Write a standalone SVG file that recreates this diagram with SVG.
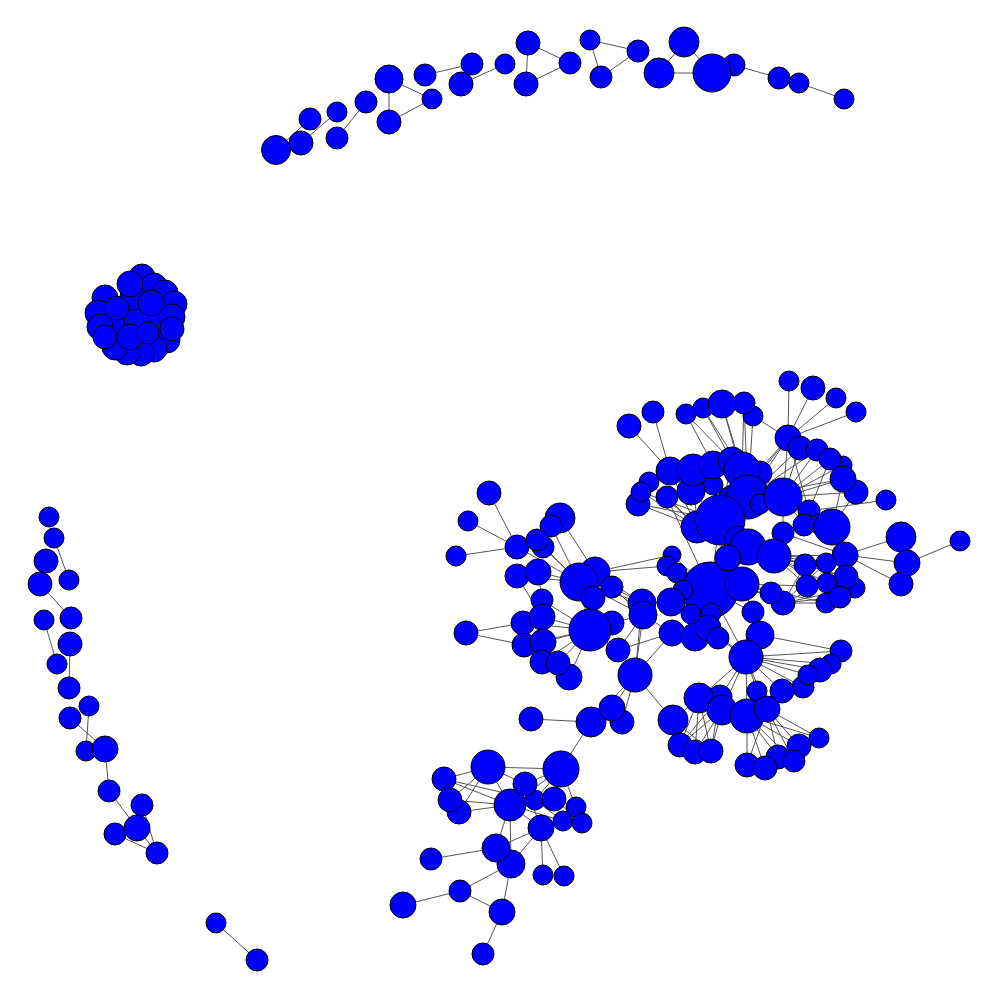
<svg xmlns="http://www.w3.org/2000/svg" width="1000" height="1000" viewBox="0 0 1000 1000">
<style>
circle{fill:#0000ff;stroke:#000;stroke-width:1}
#edges line{stroke:#555;stroke-width:1}
</style>
<rect width="1000" height="1000" fill="#fff"/>
<g id="edges">
<line x1="276" y1="150" x2="310" y2="119"/><line x1="301" y1="143" x2="337" y2="112"/><line x1="337" y1="138" x2="366" y2="102"/><line x1="389" y1="79" x2="389" y2="122"/><line x1="389" y1="79" x2="432" y2="99"/><line x1="389" y1="122" x2="432" y2="99"/><line x1="425" y1="75" x2="472" y2="64"/><line x1="461" y1="84" x2="505" y2="64"/><line x1="528" y1="43" x2="526" y2="84"/><line x1="528" y1="43" x2="570" y2="63"/><line x1="526" y1="84" x2="570" y2="63"/><line x1="590" y1="40" x2="638" y2="51"/><line x1="590" y1="40" x2="601" y2="77"/><line x1="601" y1="77" x2="638" y2="51"/><line x1="684" y1="42" x2="659" y2="73"/><line x1="684" y1="42" x2="712" y2="73"/><line x1="659" y1="73" x2="712" y2="73"/><line x1="734" y1="65" x2="779" y2="78"/><line x1="799" y1="83" x2="844" y2="99"/>
<line x1="54" y1="538" x2="69" y2="580"/><line x1="40" y1="584" x2="71" y2="618"/><line x1="44" y1="620" x2="57" y2="664"/><line x1="70" y1="644" x2="69" y2="688"/><line x1="89" y1="706" x2="86" y2="751"/><line x1="70" y1="718" x2="105" y2="749"/><line x1="105" y1="749" x2="109" y2="791"/><line x1="109" y1="791" x2="137" y2="828"/><line x1="137" y1="828" x2="157" y2="853"/><line x1="115" y1="834" x2="157" y2="853"/><line x1="142" y1="805" x2="157" y2="853"/><line x1="216" y1="923" x2="257" y2="960"/>
<line x1="488" y1="767" x2="561" y2="769"/><line x1="488" y1="767" x2="444" y2="779"/><line x1="488" y1="767" x2="450" y2="800"/><line x1="488" y1="767" x2="459" y2="812"/><line x1="488" y1="767" x2="510" y2="805"/><line x1="488" y1="767" x2="525" y2="784"/><line x1="444" y1="779" x2="510" y2="805"/><line x1="444" y1="779" x2="535" y2="800"/><line x1="450" y1="800" x2="510" y2="805"/><line x1="459" y1="812" x2="510" y2="805"/><line x1="561" y1="769" x2="525" y2="784"/><line x1="561" y1="769" x2="535" y2="800"/><line x1="561" y1="769" x2="554" y2="799"/><line x1="561" y1="769" x2="576" y2="807"/><line x1="561" y1="769" x2="510" y2="805"/><line x1="561" y1="769" x2="591" y2="722"/><line x1="510" y1="805" x2="541" y2="828"/><line x1="510" y1="805" x2="496" y2="848"/><line x1="510" y1="805" x2="511" y2="864"/><line x1="525" y1="784" x2="541" y2="828"/><line x1="535" y1="800" x2="563" y2="821"/><line x1="554" y1="799" x2="582" y2="823"/><line x1="510" y1="805" x2="563" y2="821"/><line x1="541" y1="828" x2="496" y2="848"/><line x1="541" y1="828" x2="511" y2="864"/><line x1="541" y1="828" x2="543" y2="875"/><line x1="541" y1="828" x2="564" y2="876"/><line x1="496" y1="848" x2="431" y2="859"/><line x1="511" y1="864" x2="460" y2="891"/><line x1="511" y1="864" x2="502" y2="912"/><line x1="460" y1="891" x2="403" y2="905"/><line x1="460" y1="891" x2="502" y2="912"/><line x1="502" y1="912" x2="483" y2="954"/>
<line x1="629" y1="426" x2="670" y2="471"/><line x1="653" y1="412" x2="670" y2="471"/><line x1="686" y1="414" x2="732" y2="461"/><line x1="703" y1="408" x2="732" y2="461"/><line x1="703" y1="408" x2="742" y2="470"/><line x1="722" y1="404" x2="742" y2="470"/><line x1="722" y1="404" x2="748" y2="497"/><line x1="744" y1="403" x2="742" y2="470"/><line x1="744" y1="403" x2="748" y2="497"/><line x1="753" y1="416" x2="748" y2="497"/><line x1="753" y1="416" x2="788" y2="438"/><line x1="686" y1="414" x2="713" y2="465"/><line x1="789" y1="381" x2="788" y2="438"/><line x1="813" y1="388" x2="788" y2="438"/><line x1="836" y1="398" x2="788" y2="438"/><line x1="856" y1="412" x2="788" y2="438"/><line x1="788" y1="438" x2="760" y2="473"/><line x1="788" y1="438" x2="748" y2="497"/><line x1="788" y1="438" x2="783" y2="497"/><line x1="788" y1="438" x2="809" y2="511"/><line x1="788" y1="438" x2="733" y2="500"/><line x1="800" y1="448" x2="783" y2="497"/><line x1="817" y1="450" x2="783" y2="497"/><line x1="830" y1="459" x2="783" y2="497"/><line x1="843" y1="465" x2="783" y2="497"/><line x1="843" y1="479" x2="783" y2="497"/><line x1="856" y1="492" x2="783" y2="497"/><line x1="800" y1="448" x2="748" y2="497"/><line x1="817" y1="450" x2="748" y2="497"/><line x1="843" y1="479" x2="748" y2="497"/><line x1="830" y1="459" x2="809" y2="511"/><line x1="886" y1="500" x2="809" y2="511"/><line x1="670" y1="471" x2="697" y2="527"/><line x1="693" y1="470" x2="697" y2="527"/><line x1="713" y1="465" x2="720" y2="520"/><line x1="732" y1="461" x2="720" y2="520"/><line x1="742" y1="470" x2="720" y2="520"/><line x1="760" y1="473" x2="783" y2="497"/><line x1="649" y1="482" x2="697" y2="527"/><line x1="641" y1="492" x2="697" y2="527"/><line x1="638" y1="504" x2="697" y2="527"/><line x1="667" y1="497" x2="697" y2="527"/><line x1="638" y1="504" x2="720" y2="520"/><line x1="641" y1="492" x2="720" y2="520"/><line x1="667" y1="497" x2="710" y2="590"/><line x1="691" y1="491" x2="720" y2="520"/><line x1="713" y1="485" x2="720" y2="520"/><line x1="748" y1="497" x2="783" y2="497"/><line x1="748" y1="497" x2="710" y2="590"/><line x1="733" y1="500" x2="710" y2="590"/><line x1="760" y1="504" x2="783" y2="497"/><line x1="783" y1="497" x2="804" y2="525"/><line x1="783" y1="497" x2="819" y2="524"/><line x1="783" y1="497" x2="832" y2="527"/><line x1="783" y1="497" x2="783" y2="533"/><line x1="832" y1="527" x2="845" y2="555"/><line x1="783" y1="533" x2="845" y2="555"/><line x1="774" y1="556" x2="845" y2="555"/><line x1="832" y1="527" x2="843" y2="479"/><line x1="832" y1="527" x2="856" y2="492"/><line x1="845" y1="555" x2="901" y2="537"/><line x1="845" y1="555" x2="907" y2="563"/><line x1="845" y1="555" x2="901" y2="584"/><line x1="907" y1="563" x2="960" y2="541"/><line x1="774" y1="556" x2="805" y2="565"/><line x1="774" y1="556" x2="826" y2="563"/><line x1="774" y1="556" x2="846" y2="577"/><line x1="774" y1="556" x2="807" y2="586"/><line x1="774" y1="556" x2="827" y2="583"/><line x1="774" y1="556" x2="840" y2="597"/><line x1="783" y1="603" x2="805" y2="565"/><line x1="783" y1="603" x2="826" y2="563"/><line x1="783" y1="603" x2="855" y2="588"/><line x1="783" y1="603" x2="827" y2="583"/><line x1="783" y1="603" x2="840" y2="597"/><line x1="783" y1="603" x2="826" y2="603"/><line x1="742" y1="584" x2="807" y2="586"/><line x1="742" y1="584" x2="826" y2="603"/><line x1="748" y1="547" x2="826" y2="563"/><line x1="748" y1="547" x2="846" y2="577"/><line x1="710" y1="590" x2="720" y2="520"/><line x1="710" y1="590" x2="748" y2="547"/><line x1="710" y1="590" x2="742" y2="584"/><line x1="710" y1="590" x2="728" y2="558"/><line x1="710" y1="590" x2="672" y2="555"/><line x1="710" y1="590" x2="667" y2="566"/><line x1="710" y1="590" x2="677" y2="573"/><line x1="710" y1="590" x2="683" y2="590"/><line x1="710" y1="590" x2="671" y2="602"/><line x1="710" y1="590" x2="691" y2="614"/><line x1="710" y1="590" x2="711" y2="613"/><line x1="710" y1="590" x2="753" y2="612"/><line x1="710" y1="590" x2="771" y2="593"/><line x1="742" y1="584" x2="753" y2="612"/><line x1="742" y1="584" x2="771" y2="593"/><line x1="742" y1="584" x2="783" y2="603"/><line x1="760" y1="635" x2="746" y2="657"/><line x1="746" y1="657" x2="718" y2="638"/><line x1="746" y1="657" x2="708" y2="628"/><line x1="746" y1="657" x2="710" y2="590"/>
<line x1="579" y1="582" x2="642" y2="603"/><line x1="579" y1="582" x2="643" y2="615"/><line x1="595" y1="572" x2="642" y2="603"/><line x1="612" y1="587" x2="642" y2="603"/><line x1="595" y1="572" x2="643" y2="615"/><line x1="612" y1="587" x2="643" y2="615"/><line x1="595" y1="572" x2="672" y2="555"/><line x1="595" y1="572" x2="667" y2="566"/><line x1="612" y1="623" x2="643" y2="615"/><line x1="618" y1="650" x2="643" y2="615"/><line x1="635" y1="675" x2="643" y2="615"/><line x1="635" y1="675" x2="642" y2="603"/><line x1="618" y1="650" x2="672" y2="633"/><line x1="635" y1="675" x2="672" y2="633"/><line x1="643" y1="615" x2="672" y2="633"/><line x1="671" y1="602" x2="642" y2="603"/>
<line x1="760" y1="635" x2="841" y2="651"/><line x1="746" y1="657" x2="841" y2="651"/><line x1="746" y1="657" x2="831" y2="664"/><line x1="746" y1="657" x2="820" y2="670"/><line x1="746" y1="657" x2="808" y2="675"/><line x1="746" y1="657" x2="803" y2="687"/><line x1="746" y1="657" x2="782" y2="691"/><line x1="746" y1="657" x2="757" y2="691"/><line x1="746" y1="657" x2="767" y2="709"/><line x1="746" y1="657" x2="747" y2="716"/><line x1="746" y1="657" x2="722" y2="710"/><line x1="746" y1="657" x2="720" y2="697"/><line x1="746" y1="657" x2="699" y2="698"/><line x1="747" y1="716" x2="747" y2="765"/><line x1="747" y1="716" x2="765" y2="768"/><line x1="747" y1="716" x2="778" y2="757"/><line x1="747" y1="716" x2="799" y2="746"/><line x1="747" y1="716" x2="794" y2="761"/><line x1="747" y1="716" x2="819" y2="738"/><line x1="767" y1="709" x2="747" y2="765"/><line x1="767" y1="709" x2="778" y2="757"/><line x1="767" y1="709" x2="799" y2="746"/><line x1="767" y1="709" x2="794" y2="761"/><line x1="767" y1="709" x2="819" y2="738"/><line x1="722" y1="710" x2="680" y2="745"/><line x1="722" y1="710" x2="695" y2="752"/><line x1="722" y1="710" x2="711" y2="751"/><line x1="720" y1="697" x2="680" y2="745"/><line x1="720" y1="697" x2="711" y2="751"/><line x1="699" y1="698" x2="680" y2="745"/><line x1="699" y1="698" x2="695" y2="752"/><line x1="699" y1="698" x2="711" y2="751"/><line x1="673" y1="720" x2="680" y2="745"/><line x1="673" y1="720" x2="695" y2="752"/><line x1="673" y1="720" x2="711" y2="751"/><line x1="699" y1="698" x2="673" y2="720"/><line x1="635" y1="675" x2="673" y2="720"/>
<line x1="489" y1="493" x2="517" y2="547"/><line x1="468" y1="521" x2="517" y2="547"/><line x1="456" y1="556" x2="517" y2="547"/><line x1="517" y1="547" x2="579" y2="582"/><line x1="537" y1="540" x2="579" y2="582"/><line x1="543" y1="547" x2="579" y2="582"/><line x1="551" y1="526" x2="579" y2="582"/><line x1="560" y1="518" x2="595" y2="572"/><line x1="517" y1="576" x2="579" y2="582"/><line x1="538" y1="572" x2="579" y2="582"/><line x1="579" y1="582" x2="595" y2="572"/><line x1="579" y1="582" x2="612" y2="587"/><line x1="579" y1="582" x2="590" y2="630"/><line x1="593" y1="598" x2="590" y2="630"/><line x1="542" y1="600" x2="590" y2="630"/><line x1="542" y1="617" x2="590" y2="630"/><line x1="523" y1="623" x2="590" y2="630"/><line x1="524" y1="645" x2="590" y2="630"/><line x1="543" y1="642" x2="590" y2="630"/><line x1="542" y1="662" x2="590" y2="630"/><line x1="558" y1="663" x2="590" y2="630"/><line x1="569" y1="677" x2="590" y2="630"/><line x1="466" y1="633" x2="523" y2="623"/><line x1="466" y1="633" x2="524" y2="645"/><line x1="590" y1="630" x2="612" y2="623"/><line x1="590" y1="630" x2="618" y2="650"/><line x1="517" y1="576" x2="542" y2="617"/><line x1="538" y1="572" x2="542" y2="600"/><line x1="635" y1="675" x2="591" y2="722"/><line x1="635" y1="675" x2="612" y2="708"/><line x1="635" y1="675" x2="622" y2="722"/><line x1="531" y1="719" x2="591" y2="722"/>
</g>
<g id="T1"><circle cx="276" cy="150" r="14.5"/></g>
<g id="T2"><circle cx="301" cy="143" r="12"/></g>
<g id="T3"><circle cx="310" cy="119" r="11"/></g>
<g id="T4"><circle cx="337" cy="112" r="10"/></g>
<g id="T5"><circle cx="337" cy="138" r="11"/></g>
<g id="T6"><circle cx="366" cy="102" r="11"/></g>
<g id="T7"><circle cx="389" cy="79" r="14"/></g>
<g id="T8"><circle cx="389" cy="122" r="12"/></g>
<g id="T9"><circle cx="425" cy="75" r="11"/></g>
<g id="T10"><circle cx="432" cy="99" r="10"/></g>
<g id="T11"><circle cx="461" cy="84" r="12"/></g>
<g id="T12"><circle cx="472" cy="64" r="11"/></g>
<g id="T13"><circle cx="505" cy="64" r="10"/></g>
<g id="T14"><circle cx="528" cy="43" r="12"/></g>
<g id="T15"><circle cx="526" cy="84" r="12"/></g>
<g id="T16"><circle cx="570" cy="63" r="11"/></g>
<g id="T17"><circle cx="590" cy="40" r="10"/></g>
<g id="T18"><circle cx="638" cy="51" r="11"/></g>
<g id="T19"><circle cx="601" cy="77" r="11"/></g>
<g id="T20"><circle cx="684" cy="42" r="15"/></g>
<g id="T21"><circle cx="659" cy="73" r="15"/></g>
<g id="T23"><circle cx="734" cy="65" r="11"/></g>
<g id="T22"><circle cx="712" cy="73" r="19"/></g>
<g id="T24"><circle cx="779" cy="78" r="11"/></g>
<g id="T25"><circle cx="799" cy="83" r="10"/></g>
<g id="T26"><circle cx="844" cy="99" r="10"/></g>
<g id="B0a"><circle cx="122" cy="322" r="15"/></g>
<g id="B0b"><circle cx="152" cy="318" r="15"/></g>
<g id="B0c"><circle cx="136" cy="306" r="15"/></g>
<g id="B0d"><circle cx="137" cy="336" r="15"/></g>
<g id="B1"><circle cx="142" cy="277" r="13"/></g>
<g id="B2"><circle cx="154" cy="286" r="13"/></g>
<g id="B3"><circle cx="165" cy="293" r="13"/></g>
<g id="B4"><circle cx="174" cy="304" r="13"/></g>
<g id="B5"><circle cx="105" cy="298" r="13"/></g>
<g id="B6"><circle cx="98" cy="313" r="13"/></g>
<g id="B7"><circle cx="172" cy="317" r="13"/></g>
<g id="B8"><circle cx="137" cy="320" r="13"/></g>
<g id="B9"><circle cx="100" cy="327" r="13"/></g>
<g id="B10"><circle cx="167" cy="340" r="13"/></g>
<g id="B11"><circle cx="154" cy="349" r="13"/></g>
<g id="B12"><circle cx="141" cy="353" r="13"/></g>
<g id="B13"><circle cx="127" cy="352" r="13"/></g>
<g id="B14"><circle cx="115" cy="347" r="13"/></g>
<g id="B15"><circle cx="130" cy="337" r="13"/></g>
<g id="B16"><circle cx="133" cy="297" r="13"/></g>
<g id="B17"><circle cx="130" cy="284" r="13"/></g>
<g id="B18"><circle cx="117" cy="308" r="12"/></g>
<g id="B19"><circle cx="151" cy="303" r="13"/></g>
<g id="B20"><circle cx="105" cy="337" r="12"/></g>
<g id="B21"><circle cx="148" cy="333" r="11"/></g>
<g id="B22"><circle cx="172" cy="329" r="12"/></g>
<g id="C1"><circle cx="49" cy="517" r="10"/></g>
<g id="C2"><circle cx="54" cy="538" r="10"/></g>
<g id="C3"><circle cx="46" cy="561" r="12"/></g>
<g id="C4"><circle cx="69" cy="580" r="10"/></g>
<g id="C5"><circle cx="40" cy="584" r="12"/></g>
<g id="C6"><circle cx="44" cy="620" r="10"/></g>
<g id="C7"><circle cx="71" cy="618" r="11"/></g>
<g id="C8"><circle cx="70" cy="644" r="12"/></g>
<g id="C9"><circle cx="57" cy="664" r="10"/></g>
<g id="C10"><circle cx="69" cy="688" r="11"/></g>
<g id="C11"><circle cx="89" cy="706" r="10"/></g>
<g id="C12"><circle cx="70" cy="718" r="11"/></g>
<g id="C13"><circle cx="86" cy="751" r="10"/></g>
<g id="C14"><circle cx="105" cy="749" r="13"/></g>
<g id="C15"><circle cx="109" cy="791" r="11"/></g>
<g id="C16"><circle cx="142" cy="805" r="11"/></g>
<g id="C17"><circle cx="115" cy="834" r="11"/></g>
<g id="C18"><circle cx="137" cy="828" r="13"/></g>
<g id="C19"><circle cx="157" cy="853" r="11"/></g>
<g id="P1"><circle cx="216" cy="923" r="10"/></g>
<g id="P2"><circle cx="257" cy="960" r="11"/></g>
<g id="Z1"><circle cx="488" cy="767" r="17"/></g>
<g id="Z2"><circle cx="561" cy="769" r="18"/></g>
<g id="Z3"><circle cx="444" cy="779" r="12"/></g>
<g id="Z5"><circle cx="459" cy="812" r="12"/></g>
<g id="Z4"><circle cx="450" cy="800" r="12"/></g>
<g id="Z8"><circle cx="535" cy="800" r="10"/></g>
<g id="Z6"><circle cx="510" cy="805" r="16"/></g>
<g id="Z7"><circle cx="525" cy="784" r="12"/></g>
<g id="Z9"><circle cx="554" cy="799" r="12"/></g>
<g id="Z10"><circle cx="576" cy="807" r="10"/></g>
<g id="Z11"><circle cx="563" cy="821" r="10"/></g>
<g id="Z12"><circle cx="582" cy="823" r="10"/></g>
<g id="Z13"><circle cx="541" cy="828" r="13"/></g>
<g id="Z15"><circle cx="511" cy="864" r="14"/></g>
<g id="Z14"><circle cx="496" cy="848" r="14"/></g>
<g id="Z16"><circle cx="431" cy="859" r="11"/></g>
<g id="Z17"><circle cx="543" cy="875" r="10"/></g>
<g id="Z18"><circle cx="564" cy="876" r="10"/></g>
<g id="Z19"><circle cx="460" cy="891" r="11"/></g>
<g id="Z20"><circle cx="403" cy="905" r="13"/></g>
<g id="Z21"><circle cx="502" cy="912" r="13"/></g>
<g id="Z22"><circle cx="483" cy="954" r="11"/></g>
<g id="R1"><circle cx="629" cy="426" r="12"/></g>
<g id="R2"><circle cx="653" cy="412" r="11"/></g>
<g id="R3"><circle cx="686" cy="414" r="10"/></g>
<g id="R4"><circle cx="703" cy="408" r="10"/></g>
<g id="R7"><circle cx="753" cy="416" r="10"/></g>
<g id="R6"><circle cx="744" cy="403" r="11"/></g>
<g id="R5"><circle cx="722" cy="404" r="14"/></g>
<g id="R8"><circle cx="789" cy="381" r="10"/></g>
<g id="R9"><circle cx="813" cy="388" r="12"/></g>
<g id="R10"><circle cx="836" cy="398" r="10"/></g>
<g id="R11"><circle cx="856" cy="412" r="10"/></g>
<g id="R12"><circle cx="788" cy="438" r="13"/></g>
<g id="R13"><circle cx="800" cy="448" r="12"/></g>
<g id="R14"><circle cx="817" cy="450" r="11"/></g>
<g id="R16"><circle cx="843" cy="465" r="9"/></g>
<g id="R15"><circle cx="830" cy="459" r="11"/></g>
<g id="R18"><circle cx="856" cy="492" r="12"/></g>
<g id="R17"><circle cx="843" cy="479" r="13"/></g>
<g id="R19"><circle cx="886" cy="500" r="10"/></g>
<g id="R26"><circle cx="649" cy="482" r="10"/></g>
<g id="R28"><circle cx="638" cy="504" r="12"/></g>
<g id="R27"><circle cx="641" cy="492" r="10"/></g>
<g id="R29"><circle cx="667" cy="497" r="11"/></g>
<g id="R31"><circle cx="713" cy="485" r="10"/></g>
<g id="R30"><circle cx="691" cy="491" r="14"/></g>
<g id="R20"><circle cx="670" cy="471" r="14"/></g>
<g id="R21"><circle cx="693" cy="470" r="16"/></g>
<g id="R22"><circle cx="713" cy="465" r="14"/></g>
<g id="R25"><circle cx="760" cy="473" r="12"/></g>
<g id="R23"><circle cx="732" cy="461" r="14"/></g>
<g id="R24"><circle cx="742" cy="470" r="18"/></g>
<g id="R32"><circle cx="733" cy="500" r="15"/></g>
<g id="R33"><circle cx="748" cy="497" r="22"/></g>
<g id="R34"><circle cx="760" cy="504" r="10"/></g>
<g id="R35"><circle cx="783" cy="497" r="19"/></g>
<g id="R36"><circle cx="809" cy="511" r="11"/></g>
<g id="R37"><circle cx="804" cy="525" r="11"/></g>
<g id="R38"><circle cx="819" cy="524" r="10"/></g>
<g id="R39"><circle cx="832" cy="527" r="18"/></g>
<g id="R40"><circle cx="783" cy="533" r="11"/></g>
<g id="R41"><circle cx="697" cy="527" r="16"/></g>
<g id="R42"><circle cx="720" cy="520" r="25"/></g>
<g id="R43"><circle cx="737" cy="538" r="12"/></g>
<g id="R61"><circle cx="710" cy="590" r="28"/></g>
<g id="R44"><circle cx="748" cy="547" r="18"/></g>
<g id="R45"><circle cx="774" cy="556" r="17"/></g>
<g id="R47"><circle cx="845" cy="555" r="13"/></g>
<g id="R48"><circle cx="901" cy="537" r="15"/></g>
<g id="R50"><circle cx="960" cy="541" r="10"/></g>
<g id="R51"><circle cx="901" cy="584" r="12"/></g>
<g id="R49"><circle cx="907" cy="563" r="13"/></g>
<g id="R52"><circle cx="805" cy="565" r="11"/></g>
<g id="R53"><circle cx="826" cy="563" r="10"/></g>
<g id="R55"><circle cx="855" cy="588" r="10"/></g>
<g id="R54"><circle cx="846" cy="577" r="12"/></g>
<g id="R56"><circle cx="807" cy="586" r="11"/></g>
<g id="R57"><circle cx="827" cy="583" r="10"/></g>
<g id="R59"><circle cx="826" cy="603" r="10"/></g>
<g id="R58"><circle cx="840" cy="597" r="11"/></g>
<g id="R60"><circle cx="783" cy="603" r="12"/></g>
<g id="R62"><circle cx="742" cy="584" r="17"/></g>
<g id="R63"><circle cx="728" cy="558" r="13"/></g>
<g id="R64"><circle cx="672" cy="555" r="9"/></g>
<g id="R65"><circle cx="667" cy="566" r="10"/></g>
<g id="R66"><circle cx="677" cy="573" r="10"/></g>
<g id="R67"><circle cx="683" cy="590" r="10"/></g>
<g id="R68"><circle cx="671" cy="602" r="14"/></g>
<g id="R69"><circle cx="642" cy="603" r="14"/></g>
<g id="R70"><circle cx="643" cy="615" r="14"/></g>
<g id="R71"><circle cx="691" cy="614" r="10"/></g>
<g id="R72"><circle cx="711" cy="613" r="10"/></g>
<g id="R73"><circle cx="672" cy="633" r="13"/></g>
<g id="R74"><circle cx="695" cy="637" r="14"/></g>
<g id="R75"><circle cx="708" cy="628" r="13"/></g>
<g id="R76"><circle cx="718" cy="638" r="11"/></g>
<g id="R77"><circle cx="753" cy="612" r="11"/></g>
<g id="R78"><circle cx="771" cy="593" r="11"/></g>
<g id="R80"><circle cx="760" cy="635" r="14"/></g>
<g id="R81"><circle cx="746" cy="657" r="17"/></g>
<g id="M1"><circle cx="489" cy="493" r="12"/></g>
<g id="M2"><circle cx="468" cy="521" r="10"/></g>
<g id="M3"><circle cx="456" cy="556" r="10"/></g>
<g id="M4"><circle cx="517" cy="547" r="12"/></g>
<g id="M5"><circle cx="560" cy="518" r="15"/></g>
<g id="M6"><circle cx="551" cy="526" r="11"/></g>
<g id="M8"><circle cx="543" cy="547" r="11"/></g>
<g id="M7"><circle cx="537" cy="540" r="11"/></g>
<g id="M9"><circle cx="517" cy="576" r="12"/></g>
<g id="M10"><circle cx="538" cy="572" r="13"/></g>
<g id="M12"><circle cx="595" cy="572" r="15"/></g>
<g id="M11"><circle cx="579" cy="582" r="19"/></g>
<g id="M13"><circle cx="612" cy="587" r="11"/></g>
<g id="M14"><circle cx="593" cy="598" r="12"/></g>
<g id="M15"><circle cx="542" cy="600" r="11"/></g>
<g id="M17"><circle cx="523" cy="623" r="12"/></g>
<g id="M16"><circle cx="542" cy="617" r="13"/></g>
<g id="M18"><circle cx="466" cy="633" r="12"/></g>
<g id="M19"><circle cx="524" cy="645" r="12"/></g>
<g id="M20"><circle cx="543" cy="642" r="13"/></g>
<g id="M21"><circle cx="612" cy="623" r="12"/></g>
<g id="M22"><circle cx="590" cy="630" r="21"/></g>
<g id="M23"><circle cx="542" cy="662" r="12"/></g>
<g id="M25"><circle cx="569" cy="677" r="13"/></g>
<g id="M24"><circle cx="558" cy="663" r="12"/></g>
<g id="M26"><circle cx="618" cy="650" r="12"/></g>
<g id="M27"><circle cx="635" cy="675" r="17"/></g>
<g id="M28"><circle cx="531" cy="719" r="12"/></g>
<g id="M31"><circle cx="622" cy="722" r="12"/></g>
<g id="M29"><circle cx="591" cy="722" r="15"/></g>
<g id="M30"><circle cx="612" cy="708" r="13"/></g>
<g id="L1"><circle cx="841" cy="651" r="11"/></g>
<g id="L2"><circle cx="831" cy="664" r="10"/></g>
<g id="L3"><circle cx="820" cy="670" r="12"/></g>
<g id="L5"><circle cx="803" cy="687" r="11"/></g>
<g id="L4"><circle cx="808" cy="675" r="10"/></g>
<g id="L7"><circle cx="757" cy="691" r="10"/></g>
<g id="L6"><circle cx="782" cy="691" r="12"/></g>
<g id="L13"><circle cx="673" cy="720" r="15"/></g>
<g id="L11"><circle cx="720" cy="697" r="12"/></g>
<g id="L12"><circle cx="699" cy="698" r="15"/></g>
<g id="L10"><circle cx="722" cy="710" r="15"/></g>
<g id="L9"><circle cx="747" cy="716" r="17"/></g>
<g id="L8"><circle cx="767" cy="709" r="13"/></g>
<g id="L14"><circle cx="680" cy="745" r="12"/></g>
<g id="L15"><circle cx="695" cy="752" r="12"/></g>
<g id="L16"><circle cx="711" cy="751" r="12"/></g>
<g id="L17"><circle cx="747" cy="765" r="12"/></g>
<g id="L19"><circle cx="778" cy="757" r="12"/></g>
<g id="L18"><circle cx="765" cy="768" r="12"/></g>
<g id="L22"><circle cx="819" cy="738" r="10"/></g>
<g id="L20"><circle cx="799" cy="746" r="12"/></g>
<g id="L21"><circle cx="794" cy="761" r="11"/></g>
</svg>
